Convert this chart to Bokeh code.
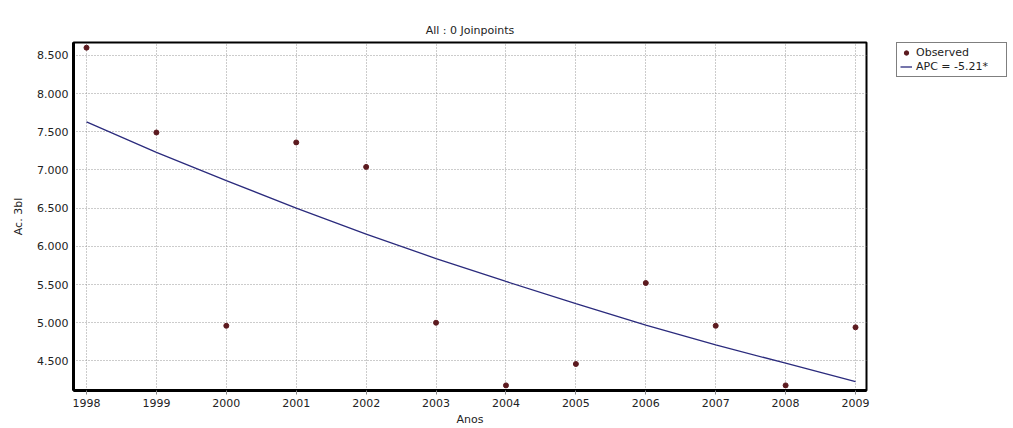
from bokeh.plotting import figure
from bokeh.layouts import row
from bokeh.models import FixedTicker, NumeralTickFormatter, Legend, LegendItem, Range1d
from bokeh.embed import file_html
from bokeh.resources import INLINE

# ---- data ----
years = [1998, 1999, 2000, 2001, 2002, 2003, 2004, 2005, 2006, 2007, 2008, 2009]
observed = [8.60, 7.49, 4.96, 7.36, 7.04, 5.00, 4.18, 4.46, 5.52, 4.96, 4.18, 4.94]
apc_fit = [7.63, 7.23, 6.86, 6.50, 6.16, 5.84, 5.54, 5.25, 4.97, 4.71, 4.47, 4.23]
y_ticks = [4.5, 5.0, 5.5, 6.0, 6.5, 7.0, 7.5, 8.0, 8.5]
title_text = "All : 0 Joinpoints"
x_label = "Anos"
y_label = "Ac. 3bl"
legend_labels = ["Observed", "APC = -5.21*"]

FONT = "DejaVu Sans"
TXT = "#222222"
PT_COLOR = "#5c1a1f"
LN_COLOR = "#2b2b7d"

p = figure(width=880, height=428, output_backend="svg", toolbar_location=None,
           x_range=Range1d(1997.814, 2009.157), y_range=Range1d(4.113, 8.668),
           min_border_left=73, min_border_right=14, min_border_top=39,
           min_border_bottom=0, title=title_text)

p.title.align = "center"
p.title.text_font = FONT
p.title.text_font_size = "11px"
p.title.text_font_style = "normal"
p.title.text_color = TXT
p.title.standoff = 12

p.outline_line_color = "black"
p.outline_line_width = 2
p.background_fill_color = "white"
p.border_fill_color = "white"

for ax in (p.xaxis[0], p.yaxis[0]):
    ax.axis_line_width = 3
    ax.axis_line_color = "black"
    ax.major_tick_in = 0
    ax.major_tick_out = 4
    ax.major_tick_line_color = "#888888"
    ax.minor_tick_line_color = None
    ax.major_label_text_font = FONT
    ax.major_label_text_font_size = "11px"
    ax.major_label_text_color = TXT
    ax.axis_label_text_font = FONT
    ax.axis_label_text_font_size = "11px"
    ax.axis_label_text_font_style = "normal"
    ax.axis_label_text_color = TXT

p.xaxis.ticker = FixedTicker(ticks=years)
p.xaxis.axis_label = x_label
p.xaxis.major_label_standoff = 4
p.xaxis.axis_label_standoff = 3
p.yaxis.ticker = FixedTicker(ticks=y_ticks)
p.yaxis.formatter = NumeralTickFormatter(format="0.000")
p.yaxis.axis_label = y_label
p.yaxis.major_tick_out = 0
p.yaxis.major_label_standoff = 5
p.yaxis.axis_label_standoff = 9

for g in (p.xgrid[0], p.ygrid[0]):
    g.grid_line_color = "#999999"
    g.grid_line_dash = "1 2"
    g.grid_line_width = 1
p.xgrid.ticker = FixedTicker(ticks=years)
p.ygrid.ticker = FixedTicker(ticks=y_ticks)

p.line(years, apc_fit, line_color=LN_COLOR, line_width=1.3)
p.scatter(years, observed, size=5, fill_color=PT_COLOR, line_color=PT_COLOR)

# legend panel to the right of the chart (keys only, series hidden)
lp = figure(width=128, height=428, output_backend="svg", toolbar_location=None,
            x_axis_type=None, y_axis_type=None,
            min_border_left=16, min_border_top=42, min_border_right=0, min_border_bottom=0)
lp.outline_line_color = None
lp.background_fill_color = "white"
lp.border_fill_color = "white"
lp.xgrid.visible = False
lp.ygrid.visible = False
k_pts = lp.scatter(years, observed, size=5, fill_color=PT_COLOR, line_color=PT_COLOR,
                   visible=False)
k_line = lp.line(years, apc_fit, line_color=LN_COLOR, line_width=1.3, visible=False)

legend = Legend(items=[LegendItem(label=legend_labels[0], renderers=[k_pts]),
                       LegendItem(label=legend_labels[1], renderers=[k_line])],
                location="top_left")
legend.label_text_font = FONT
legend.label_text_font_size = "11px"
legend.label_text_color = TXT
legend.label_height = 11
legend.glyph_height = 11
legend.glyph_width = 12
legend.label_standoff = 4
legend.label_width = 87
legend.spacing = 1
legend.padding = 3
legend.margin = 0
legend.border_line_color = "black"
legend.border_line_width = 1
legend.background_fill_color = "white"
legend.background_fill_alpha = 1.0
legend.inactive_fill_alpha = 0.0
lp.add_layout(legend)

layout = row(p, lp)
open("out.html", "w").write(file_html(layout, INLINE))
